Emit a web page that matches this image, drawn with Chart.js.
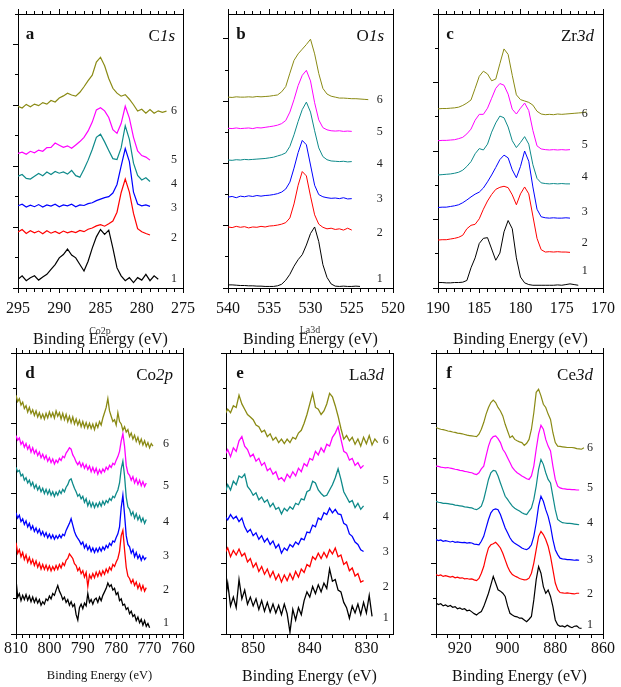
<!DOCTYPE html>
<html>
<head>
<meta charset="utf-8">
<script src="https://cdn.jsdelivr.net/npm/chart.js@4.4.1/dist/chart.umd.min.js"></script>
<style>
  html, body { margin: 0; padding: 0; background: #fff; width: 621px; height: 687px; overflow: hidden; }
  #fig { position: relative; width: 621px; height: 687px; }
  canvas { position: absolute; }
  .t { position: absolute; font-family: "Liberation Serif", "Times New Roman", serif; color: #111; white-space: nowrap; line-height: 1; }
  .letter { font-weight: bold; font-size: 17px; transform: translate(-50%, -50%); }
  .name { font-size: 17px; transform: translate(-100%, -50%); }
  .stray { font-size: 10px; color: #333; transform: translate(-50%, -50%); }
</style>
</head>
<body>
<div id="fig">
  <canvas id="panelA" width="207" height="354" style="left:0px;top:0px"></canvas>
  <canvas id="panelB" width="207" height="354" style="left:210px;top:0px"></canvas>
  <canvas id="panelC" width="207" height="354" style="left:420px;top:0px"></canvas>
  <canvas id="panelD" width="207" height="354" style="left:0px;top:339px"></canvas>
  <canvas id="panelE" width="207" height="354" style="left:210px;top:339px"></canvas>
  <canvas id="panelF" width="207" height="354" style="left:420px;top:339px"></canvas>

  <div class="t letter" style="left:30px;top:33px">a</div>
  <div class="t name" style="left:175px;top:35px">C<i>1s</i></div>
  <div class="t letter" style="left:241px;top:33px">b</div>
  <div class="t name" style="left:384px;top:35px">O<i>1s</i></div>
  <div class="t letter" style="left:450px;top:33px">c</div>
  <div class="t name" style="left:594px;top:35px">Zr<i>3d</i></div>
  <div class="t letter" style="left:30px;top:372px">d</div>
  <div class="t name" style="left:173px;top:374px">Co<i>2p</i></div>
  <div class="t letter" style="left:240px;top:372px">e</div>
  <div class="t name" style="left:384px;top:374px">La<i>3d</i></div>
  <div class="t letter" style="left:449px;top:372px">f</div>
  <div class="t name" style="left:593px;top:374px">Ce<i>3d</i></div>

  <div class="t stray" style="left:100px;top:331px">Co2p</div>
  <div class="t stray" style="left:310px;top:330px">La3d</div>
</div>

<script>
// ---- C1s ----
const energyC1s = [295,294.5,294,293.5,293,292.5,292,291.5,291,290.5,290,289.5,289,288.5,288,287.5,287,286.5,286,285.5,285,284.5,284,283.5,283,282.5,282,281.5,281,280.5,280,279.5,279,278.5,278,277.5,277];
const c1s1 = [0.29,0.40,0.24,0.34,0.40,0.26,0.36,0.45,0.61,0.77,0.99,1.10,1.28,1.08,0.99,0.77,0.56,0.88,1.31,1.68,1.92,1.76,1.90,1.31,0.66,0.40,0.24,0.34,0.18,0.34,0.26,0.45,0.24,0.40,0.29,null,null];
const c1s2 = [1.84,1.92,1.79,1.88,1.81,1.87,1.78,1.88,1.80,1.86,1.79,1.87,1.81,1.86,1.82,1.89,1.85,1.93,1.97,2.04,2.08,2.03,2.11,2.20,2.49,3.13,3.58,3.15,2.45,1.95,1.85,1.79,1.74,null,null,null,null];
const c1s3 = [2.70,2.75,2.66,2.72,2.67,2.74,2.66,2.73,2.69,2.75,2.67,2.73,2.70,2.75,2.67,2.73,2.71,2.77,2.80,2.87,2.92,2.97,3.00,3.12,3.40,4.00,4.58,4.15,3.15,2.76,2.70,2.73,2.68,null,null,null,null];
const c1s4 = [3.67,3.73,3.60,3.58,3.67,3.76,3.69,3.81,3.73,3.83,3.77,3.81,3.74,3.86,3.69,3.64,3.90,4.20,4.55,4.95,5.05,4.80,4.52,4.25,4.22,4.60,5.33,4.88,4.10,3.70,3.55,3.62,3.50,null,null,null,null];
const c1s5 = [4.42,4.46,4.39,4.49,4.44,4.53,4.49,4.61,4.62,4.76,4.69,4.62,4.67,4.59,4.70,4.81,4.95,5.16,5.45,5.85,5.92,5.82,5.60,5.20,5.08,5.40,5.97,5.58,4.95,4.50,4.35,4.30,4.20,null,null,null,null];
const c1s6 = [5.97,5.91,6.03,5.95,6.04,5.99,6.09,6.04,6.16,6.11,6.24,6.31,6.40,6.34,6.30,6.43,6.61,6.81,6.99,7.42,7.58,7.30,6.88,6.56,6.40,6.30,6.35,6.20,6.02,5.81,5.87,5.74,5.86,5.74,5.82,5.77,5.81];

// ---- O1s ----
const energyO1s = [540,539.5,539,538.5,538,537.5,537,536.5,536,535.5,535,534.5,534,533.5,533,532.5,532,531.5,531,530.5,530,529.5,529,528.5,528,527.5,527,526.5,526,525.5,525,524.5,524,523.5,523];
const o1s1 = [0.10,0.10,0.09,0.08,0.08,0.07,0.07,0.06,0.06,0.05,0.05,0.05,0.07,0.12,0.25,0.44,0.70,0.91,1.07,1.38,1.75,1.96,1.49,0.75,0.34,0.13,0.06,0.05,0.06,0.05,0.05,0.06,0.05,null,null];
const o1s2 = [1.96,1.94,1.98,1.95,1.97,1.93,1.96,1.95,1.98,1.96,1.99,2.00,2.02,2.05,2.10,2.25,2.70,3.30,3.74,3.60,2.95,2.35,2.05,1.95,1.90,1.92,1.88,1.90,1.86,1.92,1.86,null,null,null,null];
const o1s3 = [2.92,2.94,2.90,2.95,2.93,2.96,2.94,2.97,2.95,2.97,2.98,3.00,3.03,3.08,3.18,3.40,3.85,4.35,4.74,4.60,3.95,3.30,3.00,2.93,2.90,2.88,2.89,2.87,2.90,2.86,2.87,null,null,null,null];
const o1s4 = [4.11,4.10,4.12,4.11,4.13,4.12,4.13,4.14,4.15,4.16,4.18,4.20,4.24,4.28,4.34,4.55,4.92,5.35,5.73,5.97,5.65,5.05,4.50,4.22,4.12,4.08,4.07,4.06,4.07,4.05,4.06,null,null,null,null];
const o1s5 = [5.13,5.12,5.14,5.12,5.13,5.14,5.12,5.15,5.14,5.16,5.18,5.20,5.23,5.28,5.38,5.65,6.05,6.50,6.83,6.99,6.65,5.95,5.40,5.15,5.08,5.05,5.04,5.05,5.03,5.04,5.03,null,null,null,null];
const o1s6 = [6.13,6.12,6.14,6.13,6.13,6.14,6.13,6.15,6.14,6.15,6.16,6.18,6.20,6.30,6.47,6.90,7.31,7.52,7.67,7.82,7.99,7.52,6.89,6.41,6.23,6.16,6.13,6.10,6.10,6.09,6.08,6.08,6.07,6.06,6.05];

// ---- Zr3d ----
const energyZr3d = [190,189.5,189,188.5,188,187.5,187,186.5,186,185.5,185,184.5,184,183.5,183,182.5,182,181.5,181,180.5,180,179.5,179,178.5,178,177.5,177,176.5,176,175.5,175,174.5,174,173.5,173,172.5,172];
const zr3d1 = [0.16,0.16,0.15,0.15,0.16,0.16,0.17,0.22,0.59,0.88,1.30,1.45,1.47,1.14,0.81,1.02,1.64,1.97,1.73,0.88,0.32,0.15,0.10,0.08,0.08,0.08,0.08,0.08,0.08,0.09,0.08,0.10,0.12,0.10,0.08,null,null];
const zr3d2 = [1.40,1.41,1.41,1.43,1.45,1.48,1.54,1.73,1.83,1.86,2.02,2.30,2.54,2.73,2.88,2.94,2.97,2.93,2.72,2.43,2.75,2.95,2.75,2.10,1.45,1.12,1.05,1.06,1.05,1.06,1.05,1.05,1.04,null,null,null,null];
const zr3d3 = [2.35,2.36,2.36,2.38,2.40,2.43,2.49,2.57,2.66,2.74,2.80,2.92,3.10,3.30,3.52,3.75,3.88,3.80,3.45,3.22,3.55,4.00,3.70,2.95,2.30,2.08,2.05,2.04,2.05,2.04,2.04,2.05,2.04,null,null,null,null];
const zr3d4 = [3.30,3.31,3.32,3.33,3.35,3.38,3.44,3.55,3.69,3.92,4.07,4.03,4.20,4.55,4.82,5.02,4.97,4.70,4.30,4.10,4.25,4.42,4.20,3.60,3.20,3.07,3.05,3.04,3.05,3.04,3.05,3.04,3.04,null,null,null,null];
const zr3d5 = [4.30,4.31,4.31,4.32,4.33,4.36,4.40,4.50,4.64,4.90,5.07,5.07,5.25,5.54,5.83,5.97,5.92,5.66,5.22,5.08,5.25,5.40,5.18,4.60,4.15,4.06,4.04,4.03,4.04,4.03,4.04,4.03,4.04,null,null,null,null];
const zr3d6 = [5.23,5.24,5.24,5.25,5.26,5.28,5.33,5.40,5.49,5.83,6.18,6.33,6.25,6.05,6.10,6.55,6.98,6.82,6.21,5.64,5.50,5.46,5.42,5.34,5.16,5.08,5.06,5.07,5.06,5.08,5.07,5.08,5.09,5.10,5.11,5.12,5.14];

// ---- Co2p ----
const energyCo2p = [810,809.5,809,808.5,808,807.5,807,806.5,806,805.5,805,804.5,804,803.5,803,802.5,802,801.5,801,800.5,800,799.5,799,798.5,798,797.5,797,796.5,796,795.5,795,794.5,794,793.5,793,792.5,792,791.5,791,790.5,790,789.5,789,788.5,788,787.5,787,786.5,786,785.5,785,784.5,784,783.5,783,782.5,782,781.5,781,780.5,780,779.5,779,778.5,778,777.5,777,776.5,776,775.5,775,774.5,774,773.5,773,772.5,772,771.5,771,770.5,770,769.5,769];
const co2p1 = [1.55,1.05,1.15,0.95,1.10,0.98,1.12,0.96,1.08,0.92,1.05,0.90,1.02,0.88,0.98,0.82,0.92,0.85,1.00,0.95,1.08,1.00,1.15,1.10,1.25,1.38,1.22,1.12,0.98,1.05,0.90,0.98,0.82,0.92,0.78,0.85,0.55,0.40,0.75,0.85,0.72,0.88,0.80,1.15,0.90,0.98,0.85,0.98,1.02,0.90,1.05,0.95,1.10,1.20,1.30,1.45,1.35,1.40,1.25,1.30,1.12,1.18,0.95,1.00,0.82,0.85,0.70,0.75,0.58,0.65,0.50,0.55,0.38,0.48,0.32,0.42,0.25,0.38,0.22,0.30,0.18,null,null];
const co2p2 = [2.60,2.30,2.40,2.20,2.32,2.12,2.25,2.05,2.18,2.00,2.12,1.95,2.08,1.90,2.02,1.85,1.98,1.84,1.96,1.82,1.94,1.80,1.92,1.82,1.95,1.84,1.98,1.88,2.02,1.95,2.10,2.15,2.28,2.22,2.15,2.00,1.95,1.80,1.88,1.72,1.80,1.62,1.75,1.35,1.68,1.58,1.72,1.60,1.76,1.64,1.78,1.66,1.80,1.70,1.85,1.75,1.90,1.82,1.98,1.92,2.05,2.15,2.35,2.80,2.95,2.40,1.90,1.65,1.58,1.45,1.55,1.38,1.48,1.30,1.42,1.25,1.38,1.22,1.32,null,null,null,null];
const co2p3 = [3.45,3.30,3.38,3.20,3.28,3.12,3.22,3.05,3.15,2.98,3.08,2.92,3.02,2.88,2.98,2.82,2.92,2.78,2.88,2.74,2.84,2.72,2.82,2.70,2.80,2.72,2.82,2.74,2.84,2.80,2.95,3.05,3.15,3.28,3.10,2.92,2.80,2.72,2.65,2.55,2.62,2.45,2.55,2.40,2.50,2.35,2.45,2.32,2.44,2.34,2.46,2.36,2.48,2.40,2.52,2.45,2.58,2.52,2.65,2.62,2.75,2.85,3.05,3.60,3.95,3.40,2.80,2.55,2.48,2.30,2.40,2.20,2.32,2.15,2.25,2.10,2.22,2.12,2.18,null,null,null,null];
const co2p4 = [4.75,4.62,4.66,4.50,4.55,4.38,4.45,4.30,4.38,4.22,4.32,4.15,4.25,4.10,4.20,4.05,4.15,4.00,4.12,3.98,4.10,3.95,4.05,3.92,4.04,3.95,4.08,4.00,4.12,4.05,4.18,4.25,4.38,4.42,4.28,4.15,4.05,3.92,3.98,3.85,3.92,3.75,3.85,3.65,3.78,3.62,3.74,3.60,3.72,3.62,3.75,3.64,3.78,3.68,3.80,3.74,3.86,3.80,3.92,3.88,4.00,4.10,4.30,4.70,4.92,4.50,3.90,3.62,3.55,3.38,3.48,3.30,3.42,3.25,3.36,3.20,3.30,3.15,3.26,null,null,null,null];
const co2p5 = [5.65,5.52,5.58,5.40,5.48,5.32,5.42,5.26,5.36,5.18,5.30,5.14,5.24,5.08,5.18,5.02,5.12,4.98,5.08,4.92,5.02,4.88,4.98,4.84,4.95,4.88,5.00,4.94,5.06,5.02,5.15,5.22,5.30,5.26,5.10,5.02,4.90,4.82,4.90,4.76,4.86,4.72,4.82,4.68,4.78,4.62,4.74,4.60,4.72,4.55,4.68,4.58,4.70,4.62,4.75,4.68,4.80,4.74,4.86,4.82,4.95,5.05,5.20,5.50,5.70,5.35,4.80,4.58,4.52,4.38,4.48,4.30,4.42,4.26,4.38,4.22,4.34,4.20,4.30,null,null,null,null];
const co2p6 = [6.80,6.62,6.70,6.52,6.60,6.42,6.50,6.32,6.45,6.28,6.38,6.22,6.35,6.18,6.30,6.14,6.26,6.12,6.28,6.15,6.32,6.18,6.30,6.15,6.35,6.20,6.30,6.12,6.28,6.10,6.25,6.05,6.20,6.02,6.18,5.98,6.12,5.95,6.08,5.90,6.05,5.88,6.02,5.86,6.00,5.85,5.98,5.82,6.00,5.88,6.05,5.95,6.15,6.30,6.45,6.70,6.35,6.20,6.05,6.10,5.95,6.30,6.05,5.98,5.80,5.90,5.75,5.82,5.62,5.72,5.55,5.66,5.48,5.60,5.42,5.55,5.38,5.50,5.34,5.45,5.30,5.42,5.35];

// ---- La3d ----
const energyLa3d = [855,854.5,854,853.5,853,852.5,852,851.5,851,850.5,850,849.5,849,848.5,848,847.5,847,846.5,846,845.5,845,844.5,844,843.5,843,842.5,842,841.5,841,840.5,840,839.5,839,838.5,838,837.5,837,836.5,836,835.5,835,834.5,834,833.5,833,832.5,832,831.5,831,830.5,830,829.5,829,828.5,828,827.5,827,826.5,826,825.5,825];
const la3d1 = [0.85,1.45,0.80,1.05,0.75,1.55,1.00,1.25,0.85,1.05,0.80,1.00,0.70,0.95,0.65,0.90,0.62,0.85,0.60,0.82,0.55,0.85,0.58,0.05,0.70,0.40,0.75,0.55,0.95,1.20,1.05,1.35,1.15,1.40,1.20,1.45,1.30,1.85,1.50,1.55,1.25,1.20,0.90,0.75,0.45,0.80,0.60,0.85,0.55,0.90,0.60,1.10,0.50,null,null,null,null,null,null,null,null];
const la3d2 = [2.30,2.45,2.20,2.38,2.25,2.42,2.22,2.30,2.05,2.15,1.90,2.02,1.78,1.92,1.70,1.85,1.62,1.78,1.55,1.70,1.48,1.68,1.52,1.72,1.55,1.78,1.62,1.85,1.75,1.98,1.92,2.20,2.12,2.30,2.15,2.32,2.18,2.40,2.28,2.45,2.20,2.25,1.98,2.05,1.80,1.88,1.65,1.72,1.48,1.52,null,null,null,null,null,null,null,null,null,null,null];
const la3d3 = [3.35,3.25,3.40,3.28,3.35,3.20,3.30,3.05,2.90,2.98,2.80,2.88,2.70,2.80,2.62,2.72,2.55,2.65,2.45,2.55,2.30,2.45,2.38,2.55,2.48,2.62,2.55,2.72,2.68,2.90,2.88,3.10,3.05,3.30,3.25,3.45,3.40,3.58,3.45,3.55,3.42,3.40,3.15,3.10,2.85,2.78,2.62,2.55,2.40,2.35,null,null,null,null,null,null,null,null,null,null,null];
const la3d4 = [4.00,4.25,4.10,4.35,4.25,4.50,4.45,4.55,4.20,4.10,3.95,4.02,3.82,3.90,3.75,3.82,3.62,3.72,3.55,3.60,3.42,3.58,3.50,3.62,3.55,3.72,3.68,3.85,3.82,4.05,4.10,4.35,4.30,4.10,4.00,3.92,3.95,4.10,4.25,4.45,4.70,4.40,4.05,3.90,3.75,3.80,3.60,3.72,3.55,3.65,null,null,null,null,null,null,null,null,null,null,null];
const la3d5 = [5.10,5.25,5.05,5.30,5.20,5.50,5.62,5.35,5.25,5.05,5.12,4.92,5.00,4.80,4.88,4.65,4.72,4.55,4.62,4.40,4.45,4.35,4.55,4.45,4.62,4.50,4.72,4.62,4.85,4.78,5.00,4.95,5.20,5.10,5.30,5.18,5.40,5.35,5.60,5.72,5.90,5.55,5.20,5.15,4.95,5.00,4.80,4.88,4.72,4.80,null,null,null,null,null,null,null,null,null,null,null];
const la3d6 = [6.25,6.40,6.30,6.50,6.45,6.80,6.55,6.40,6.25,6.18,6.10,5.95,5.90,5.75,5.80,5.62,5.70,5.52,5.60,5.45,5.55,5.42,5.55,5.45,5.60,5.55,5.72,5.80,6.00,6.25,6.55,6.85,6.45,6.40,6.25,6.35,6.55,6.85,6.75,6.50,6.20,5.85,5.55,5.65,5.50,5.60,5.40,5.55,5.35,5.60,5.42,5.65,5.38,5.55,5.45,null,null,null,null,null,null];

// ---- Ce3d ----
const energyCe3d = [930,929,928,927,926,925,924,923,922,921,920,919,918,917,916,915,914,913,912,911,910,909,908,907,906,905,904,903,902,901,900,899,898,897,896,895,894,893,892,891,890,889,888,887,886,885,884,883,882,881,880,879,878,877,876,875,874,873,872,871,870,869,868];
const ce3d1 = [0.88,0.84,0.86,0.80,0.83,0.78,0.81,0.76,0.78,0.72,0.74,0.70,0.72,0.66,0.68,0.63,0.58,0.54,0.60,0.64,0.78,0.97,1.16,1.40,1.64,1.45,1.26,1.22,1.16,1.07,0.80,0.59,0.54,0.50,0.49,0.45,0.45,0.40,0.35,0.42,0.50,0.97,1.55,1.92,1.73,1.35,1.16,1.25,1.07,0.78,0.40,0.26,0.22,0.23,0.20,0.25,0.21,0.18,0.22,0.23,0.17,0.16,null];
const ce3d2 = [1.69,1.66,1.68,1.64,1.66,1.64,1.62,1.64,1.60,1.62,1.59,1.60,1.57,1.58,1.56,1.57,1.54,1.52,1.58,1.73,1.92,2.21,2.45,2.54,2.57,2.61,2.54,2.45,2.30,2.11,1.92,1.78,1.69,1.65,1.62,1.58,1.56,1.54,1.55,1.59,1.73,2.02,2.40,2.78,2.92,2.83,2.69,2.50,2.21,1.83,1.45,1.26,1.18,1.17,1.16,1.17,1.16,1.15,1.14,1.16,1.16,null,null];
const ce3d3 = [2.69,2.66,2.68,2.64,2.66,2.64,2.62,2.64,2.61,2.62,2.61,2.60,2.61,2.59,2.60,2.59,2.56,2.55,2.54,2.64,2.78,3.02,3.26,3.45,3.54,3.56,3.54,3.40,3.21,3.02,2.88,2.74,2.64,2.58,2.54,2.50,2.45,2.42,2.40,2.45,2.54,2.78,3.16,3.64,3.92,3.78,3.54,3.35,3.07,2.69,2.40,2.26,2.16,2.14,2.13,2.12,2.12,2.11,2.10,2.11,2.10,null,null];
const ce3d4 = [3.78,3.75,3.74,3.72,3.72,3.71,3.70,3.69,3.67,3.66,3.65,3.64,3.62,3.61,3.60,3.59,3.56,3.54,3.58,3.64,3.83,4.11,4.40,4.59,4.66,4.64,4.50,4.30,4.11,3.92,3.83,3.73,3.64,3.58,3.54,3.50,3.45,3.42,3.40,3.50,3.59,3.83,4.21,4.69,4.97,4.83,4.59,4.40,4.30,3.92,3.54,3.26,3.21,3.17,3.16,3.15,3.15,3.14,3.13,3.12,3.11,null,null];
const ce3d5 = [4.78,4.77,4.75,4.74,4.73,4.74,4.72,4.71,4.69,4.68,4.66,4.65,4.63,4.62,4.60,4.59,4.56,4.54,4.59,4.70,4.78,5.07,5.35,5.54,5.62,5.64,5.56,5.45,5.26,5.16,5.02,4.88,4.74,4.66,4.59,4.55,4.50,4.46,4.42,4.40,4.50,4.78,5.26,5.69,5.94,5.83,5.54,5.35,5.21,4.78,4.40,4.21,4.16,4.14,4.13,4.12,4.12,4.11,4.11,4.10,4.10,null,null];
const ce3d6 = [5.88,5.85,5.83,5.82,5.80,5.78,5.77,5.75,5.74,5.72,5.71,5.70,5.68,5.66,5.65,5.64,5.63,5.62,5.69,5.83,6.02,6.26,6.45,6.59,6.66,6.59,6.45,6.35,6.21,5.97,5.78,5.59,5.64,5.54,5.50,5.47,5.45,5.37,5.43,5.54,5.83,6.30,6.88,6.97,6.78,6.54,6.45,6.26,6.11,5.73,5.45,5.35,5.34,5.33,5.32,5.31,5.31,5.31,5.30,5.28,5.27,5.26,5.30];

// curve colours, sample 1 to 6
const curveColors = ['#000000', '#ff0000', '#0000ff', '#0e8a8a', '#ff00ff', '#8a8a14'];
const sampleNames = ['1', '2', '3', '4', '5', '6'];

const serif = '"Liberation Serif", "Times New Roman", serif';
Chart.defaults.font.family = serif;
Chart.defaults.color = '#111';

// draws the sample numbers next to each curve
const curveNumbers = {
  id: 'curveNumbers',
  afterDatasetsDraw(chart, args, opts) {
    const ctx = chart.ctx;
    const xs = chart.scales.x, ys = chart.scales.y;
    ctx.save();
    ctx.font = '12px ' + serif;
    ctx.fillStyle = '#222';
    ctx.textAlign = 'center';
    ctx.textBaseline = 'middle';
    opts.y.forEach((v, i) => {
      ctx.fillText(sampleNames[i], xs.getPixelForValue(opts.x), ys.getPixelForValue(v));
    });
    ctx.restore();
  }
};

const panels = [
  { canvas: 'panelA', energy: energyC1s, series: [c1s1, c1s2, c1s3, c1s4, c1s5, c1s6],
    xMin: 275, xMax: 295, xStep: 1, xMajor: 5, xLabel: 5, yMax: 9, lineWidth: 1.2,
    tickPad: 6, titleSize: 16, titlePad: 6, padBottom: 2.6,
    numX: 276.1, numY: [0.29, 1.64, 2.64, 3.41, 4.21, 5.82] },
  { canvas: 'panelB', energy: energyO1s, series: [o1s1, o1s2, o1s3, o1s4, o1s5, o1s6],
    xMin: 520, xMax: 540, xStep: 1, xMajor: 5, xLabel: 5, yMax: 8.8, lineWidth: 1,
    tickPad: 6, titleSize: 16, titlePad: 6, padBottom: 2.6,
    numX: 521.6, numY: [0.28, 1.76, 2.86, 3.99, 5.00, 6.04] },
  { canvas: 'panelC', energy: energyZr3d, series: [zr3d1, zr3d2, zr3d3, zr3d4, zr3d5, zr3d6],
    xMin: 170, xMax: 190, xStep: 1, xMajor: 5, xLabel: 5, yMax: 8, lineWidth: 1,
    tickPad: 6, titleSize: 16, titlePad: 6, padBottom: 2.6,
    numX: 172.2, numY: [0.51, 1.31, 2.23, 3.26, 4.17, 5.09] },
  { canvas: 'panelD', energy: energyCo2p, series: [co2p1, co2p2, co2p3, co2p4, co2p5, co2p6],
    xMin: 760, xMax: 810, xStep: 2, xMajor: 10, xLabel: 10, yMax: 8, lineWidth: 1.3,
    tickPad: 0, titleSize: 12.5, titlePad: 10, padBottom: 7.8,
    numX: 765.1, numY: [0.31, 1.26, 2.23, 3.20, 4.23, 5.40] },
  { canvas: 'panelE', energy: energyLa3d, series: [la3d1, la3d2, la3d3, la3d4, la3d5, la3d6],
    xMin: 825.3, xMax: 854.8, xStep: 2, xMajor: 10, xLabel: 10, yMax: 8, lineWidth: 1.3,
    tickPad: 0, titleSize: 16, titlePad: 9, padBottom: 4.6,
    numX: 826.6, numY: [0.46, 1.34, 2.34, 3.34, 4.37, 5.51] },
  { canvas: 'panelF', energy: energyCe3d, series: [ce3d1, ce3d2, ce3d3, ce3d4, ce3d5, ce3d6],
    xMin: 860, xMax: 930, xStep: 5, xMajor: 20, xLabel: 20, yMax: 8, lineWidth: 1.2,
    tickPad: 0, titleSize: 16, titlePad: 9, padBottom: 4.6,
    numX: 865.5, numY: [0.26, 1.14, 2.11, 3.17, 4.17, 5.29] }
];

function makePanel(p) {
  const datasets = p.series.map((vals, i) => ({
    data: p.energy.map((e, k) => ({ x: e, y: vals[k] })).filter(pt => pt.y !== null),
    borderColor: curveColors[i],
    borderWidth: p.lineWidth,
    pointRadius: 0,
    fill: false,
    tension: 0
  }));

  // minor ticks show only the part of the tick next to the frame
  const minorOuter = [0, 2, 3, 20];
  const minorInner = [3, 20];

  new Chart(document.getElementById(p.canvas), {
    type: 'line',
    data: { datasets: datasets },
    options: {
      responsive: false,
      animation: false,
      layout: { padding: { left: 11, top: 9, right: 24, bottom: p.padBottom } },
      plugins: {
        legend: { display: false },
        tooltip: { enabled: false },
        curveNumbers: { x: p.numX, y: p.numY }
      },
      scales: {
        x: {
          type: 'linear', position: 'bottom', reverse: true,
          min: p.xMin, max: p.xMax,
          border: { display: true, color: '#000', width: 1 },
          grid: {
            drawOnChartArea: false, drawTicks: true, tickLength: 5, color: '#000',
            tickBorderDash: c => (c.tick && c.tick.value % p.xMajor === 0) ? [] : minorInner
          },
          ticks: {
            stepSize: p.xStep, includeBounds: false, autoSkip: false, maxRotation: 0,
            padding: p.tickPad, color: '#111', font: { size: 16 },
            callback: v => (v % p.xLabel === 0) ? String(v) : ''
          },
          title: {
            display: true, text: 'Binding Energy (eV)', color: '#111',
            font: { size: p.titleSize }, padding: { top: p.titlePad, bottom: 2 }
          }
        },
        x2: {
          type: 'linear', position: 'top', reverse: true,
          min: p.xMin, max: p.xMax,
          border: { display: true, color: '#000', width: 1 },
          grid: {
            drawOnChartArea: false, drawTicks: true, tickLength: 5, color: '#000',
            tickBorderDash: c => (c.tick && c.tick.value % p.xMajor === 0) ? [] : minorOuter
          },
          ticks: { stepSize: p.xStep, includeBounds: false, autoSkip: false, display: false }
        },
        y: {
          type: 'linear', position: 'left',
          min: 0, max: p.yMax,
          border: { display: true, color: '#000', width: 1 },
          grid: {
            drawOnChartArea: false, drawTicks: true, tickLength: 5, color: '#000',
            tickBorderDash: c => (c.tick && c.tick.value % 2 === 0) ? [] : minorOuter
          },
          ticks: { stepSize: 1, includeBounds: false, display: false }
        },
        y2: {
          type: 'linear', position: 'right', display: true,
          min: 0, max: p.yMax,
          border: { display: true, color: '#000', width: 1 },
          grid: { drawOnChartArea: false, drawTicks: false },
          ticks: { display: false }
        }
      }
    },
    plugins: [curveNumbers]
  });
}

panels.forEach(makePanel);
</script>
</body>
</html>
